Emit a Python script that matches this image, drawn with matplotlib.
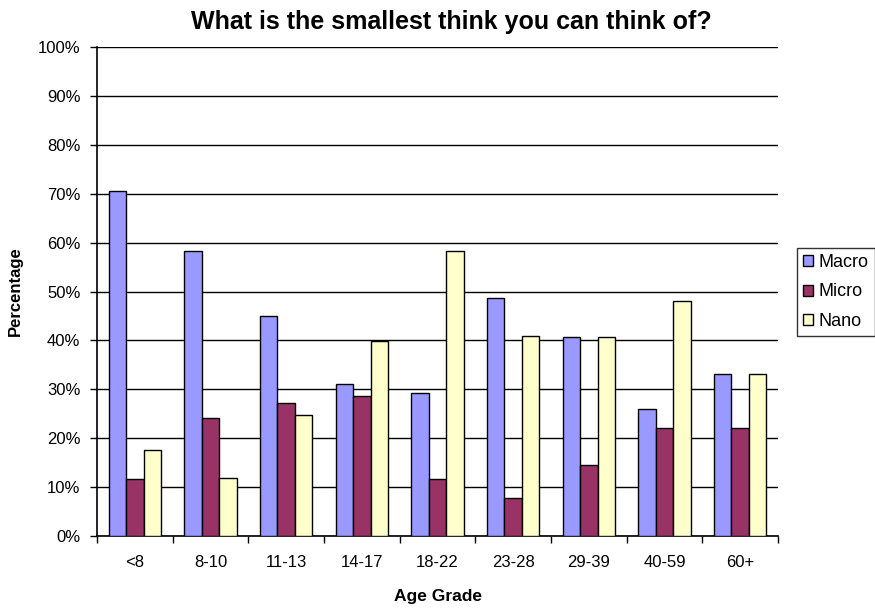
import numpy as np
import matplotlib.pyplot as plt
from matplotlib.ticker import MultipleLocator, PercentFormatter

plt.rcParams["font.family"] = ["Liberation Sans", "DejaVu Sans"]

age_grades = ["<8", "8-10", "11-13", "14-17", "18-22", "23-28", "29-39", "40-59", "60+"]
macro = [70.6, 58.3, 45.0, 31.0, 29.3, 48.6, 40.6, 26.0, 33.2]
micro = [11.7, 24.1, 27.2, 28.7, 11.7, 7.8, 14.6, 22.0, 22.0]
nano = [17.6, 11.9, 24.7, 39.9, 58.3, 40.8, 40.6, 48.0, 33.2]

series = [("Macro", macro, "#9999FF"), ("Micro", micro, "#993366"), ("Nano", nano, "#FFFFCC")]

fig = plt.figure(figsize=(8.75, 6.08), dpi=100)
ax = fig.add_axes([97 / 875, 1 - 536 / 608, 681 / 875, 489 / 608])

x = np.arange(len(age_grades))
width = 0.23
for i, (name, vals, color) in enumerate(series):
    ax.bar(x + (i - 1) * width, vals, width, label=name, color=color,
           edgecolor="black", linewidth=1, zorder=3)

ax.set_xlim(-0.5, len(age_grades) - 0.5)
ax.set_ylim(0, 100)
ax.yaxis.set_major_locator(MultipleLocator(10))
ax.yaxis.set_major_formatter(PercentFormatter(decimals=0))
ax.grid(axis="y", color="black", linewidth=1, zorder=0)

# category labels centred under each group, tick marks between groups
ax.set_xticks(x)
ax.set_xticklabels(age_grades)
ax.set_xticks(np.arange(-0.5, len(age_grades)), minor=True)
ax.tick_params(axis="x", which="major", length=0, pad=14, labelsize=12)
ax.tick_params(axis="x", which="minor", length=5, direction="out", width=1)
ax.tick_params(axis="y", length=5, direction="out", width=1, pad=7, labelsize=12)

for side in ["top", "right"]:
    ax.spines[side].set_visible(False)
for side in ["left", "bottom"]:
    ax.spines[side].set_linewidth(1.2)

ax.set_title("What is the smallest think you can think of?", fontsize=18,
             fontweight="bold", pad=13, x=0.52)
ax.set_xlabel("Age Grade", fontsize=12.5, fontweight="bold", labelpad=13)
ax.set_ylabel("Percentage", fontsize=12, fontweight="bold", labelpad=11)

leg = ax.legend(loc="center left", bbox_to_anchor=(797 / 875, 1 - 292 / 608),
                bbox_transform=fig.transFigure, frameon=True, fancybox=False,
                fontsize=13, handlelength=0.55, handleheight=0.55,
                handletextpad=0.3, labelspacing=0.7, borderpad=0.35,
                borderaxespad=0)
leg.get_frame().set_edgecolor("black")
leg.get_frame().set_linewidth(1)

plt.savefig("out.png", dpi=100)
plt.close()
